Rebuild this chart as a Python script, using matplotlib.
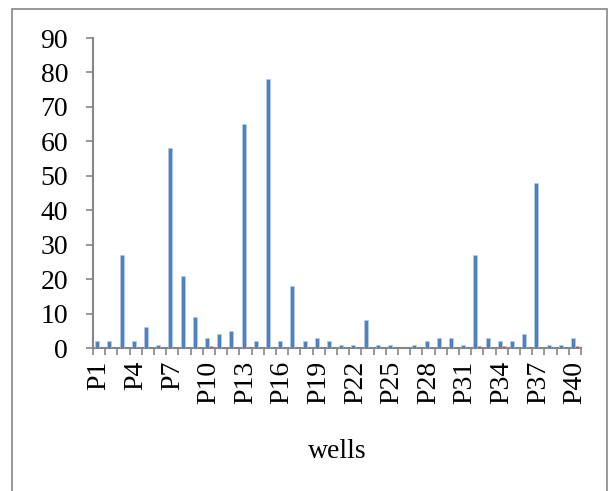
import numpy as np
import matplotlib.pyplot as plt
from matplotlib.patches import Rectangle

wells = ['P%d' % i for i in range(1, 41)]
series_a = [2, 2, 27, 2, 6, 1, 58, 21, 9, 3,
            4, 5, 65, 2, 78, 2, 18, 2, 3, 2,
            1, 1, 8, 1, 1, 0, 1, 2, 3, 3,
            1, 27, 3, 2, 2, 4, 48, 1, 1, 3]
series_b = [0, 0, 0, 0, 0, 0, 0, 0, 0, 0.6,
            0, 0, 0, 0, 0, 0, 0, 0, 0, 0,
            0, 0, 0, 0, 0, 0, 0, 0, 0, 0,
            0, 0.6, 0, 0.6, 0, 0, 0, 0, 0, 0.6]
yticks = list(range(0, 91, 10))

plt.rcParams['font.family'] = ['Liberation Serif', 'DejaVu Serif']
gray = '#868686'

fig = plt.figure(figsize=(6.11, 4.91), dpi=100)
# chart border
fig.patches.append(Rectangle((12 / 611, -0.05), 595 / 611, 1.05 - 9 / 491,
                             transform=fig.transFigure, fill=False,
                             edgecolor=gray, linewidth=1.2))

ax = fig.add_axes([93 / 611, 1 - 348 / 491, 488 / 611, 310 / 491])
x = np.arange(len(wells))
w = 0.32
ax.bar(x - w / 2, series_a, w, color='#4F81BD', edgecolor='#B9CDE5', linewidth=0.4, zorder=3)
ax.bar(x + w / 2, series_b, w, color='#C0504D', edgecolor='#E6B9B8', linewidth=0.4, zorder=3)

ax.set_xlim(-0.5, len(wells) - 0.5)
ax.set_ylim(0, 90)
ax.set_yticks(yticks)
ax.set_xticks(x[::3])
ax.set_xticklabels(wells[::3], rotation=90, fontsize=20)
ax.set_xticks(np.arange(-0.5, len(wells)), minor=True)
ax.tick_params(axis='x', which='major', length=0, pad=9)
ax.tick_params(axis='x', which='minor', length=5, width=1.2, color=gray)
ax.tick_params(axis='y', length=5, width=1.2, color=gray, pad=13, labelsize=20)

for s in ['top', 'right']:
    ax.spines[s].set_visible(False)
for s in ['left', 'bottom']:
    ax.spines[s].set_color(gray)
    ax.spines[s].set_linewidth(1.5)

fig.text(337 / 611, 1 - 452 / 491, 'wells', ha='center', va='center', fontsize=20)

fig.savefig('out.png', dpi=100)
